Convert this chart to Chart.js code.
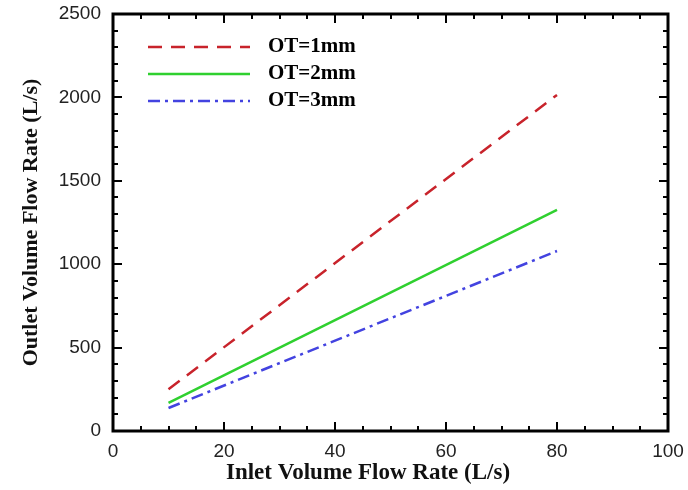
<!DOCTYPE html>
<html>
<head>
<meta charset="UTF-8">
<script src="https://cdn.jsdelivr.net/npm/chart.js"></script>
<style>
  html, body { margin: 0; padding: 0; background: #fff; }
  #wrap { width: 688px; height: 490px; }
</style>
</head>
<body>
<div id="wrap"><canvas id="grafik"></canvas></div>
<script>
// data
const inletRates = [10, 80];
const ot1mm = [250, 2015];
const ot2mm = [168, 1325];
const ot3mm = [138, 1079];
const seriesNames = ['OT=1mm', 'OT=2mm', 'OT=3mm'];
const xTitle = 'Inlet Volume Flow Rate (L/s)';
const yTitle = 'Outlet Volume Flow Rate (L/s)';

function toPoints(ys) {
  return inletRates.map((x, i) => ({ x: x, y: ys[i] }));
}

// inward ticks on all four sides + thick frame + legend + x title
const frameTicks = {
  id: 'frameTicks',
  afterDraw(chart) {
    const ctx = chart.ctx;
    const a = chart.chartArea;
    const xs = chart.scales.x, ys = chart.scales.y;
    ctx.save();
    ctx.strokeStyle = '#000';
    ctx.lineWidth = 2;
    for (let v = 0; v <= 100; v += 5) {
      const px = Math.round(xs.getPixelForValue(v));
      const len = v % 20 === 0 ? 9 : 5;
      ctx.beginPath();
      ctx.moveTo(px, a.bottom); ctx.lineTo(px, a.bottom - len);
      ctx.moveTo(px, a.top); ctx.lineTo(px, a.top + len);
      ctx.stroke();
    }
    for (let v = 0; v <= 2500; v += 100) {
      const py = Math.round(ys.getPixelForValue(v));
      const len = v % 500 === 0 ? 9 : 5;
      ctx.beginPath();
      ctx.moveTo(a.left, py); ctx.lineTo(a.left + len, py);
      ctx.moveTo(a.right, py); ctx.lineTo(a.right - len, py);
      ctx.stroke();
    }
    ctx.lineWidth = 3;
    ctx.strokeRect(a.left, a.top, a.right - a.left, a.bottom - a.top);

    // legend inside plot
    ctx.font = 'bold 21px "Liberation Serif"';
    ctx.textBaseline = 'middle';
    chart.data.datasets.forEach((ds, i) => {
      const y = 47 + i * 27;
      ctx.strokeStyle = ds.borderColor;
      ctx.lineWidth = 2.5;
      ctx.setLineDash(ds.borderDash || []);
      ctx.beginPath();
      ctx.moveTo(148, y); ctx.lineTo(250, y);
      ctx.stroke();
      ctx.setLineDash([]);
      ctx.fillStyle = '#000';
      ctx.fillText(ds.label, 268, y);
    });

    // x axis title (sits a bit left of the plot centre in the original)
    ctx.font = 'bold 23px "Liberation Serif"';
    ctx.textAlign = 'center';
    ctx.fillStyle = '#111';
    ctx.fillText(xTitle, 368, 473);
    ctx.restore();
  }
};

new Chart(document.getElementById('grafik'), {
  type: 'line',
  data: {
    datasets: [
      { label: seriesNames[0], data: toPoints(ot1mm), borderColor: '#c8232b', borderWidth: 2.5, borderDash: [14, 9] },
      { label: seriesNames[1], data: toPoints(ot2mm), borderColor: '#2fd02f', borderWidth: 2.5 },
      { label: seriesNames[2], data: toPoints(ot3mm), borderColor: '#4343e0', borderWidth: 2.5, borderDash: [12, 5, 3, 5] }
    ]
  },
  options: {
    responsive: true,
    maintainAspectRatio: false,
    animation: false,
    layout: { padding: { top: 14, right: 20, left: 0, bottom: 0 } },
    elements: { point: { radius: 0 } },
    plugins: { legend: { display: false }, tooltip: { enabled: false } },
    scales: {
      x: {
        type: 'linear', min: 0, max: 100,
        afterFit(s) { s.height = 59; s.paddingLeft = 0; s.paddingRight = 0; },
        grid: { display: false, drawTicks: false },
        border: { display: false },
        ticks: { stepSize: 20, color: '#222', padding: 9, font: { family: 'Liberation Sans', size: 19 },
                 callback: v => String(v) },
        title: { display: false }
      },
      y: {
        type: 'linear', min: 0, max: 2500,
        afterFit(s) { s.width = 113; s.paddingTop = 0; s.paddingBottom = 0; },
        grid: { display: false, drawTicks: false },
        border: { display: false },
        ticks: { stepSize: 500, color: '#222', padding: 12, font: { family: 'Liberation Sans', size: 19 },
                 callback: v => String(v) },
        title: { display: true, text: yTitle, color: '#111', padding: { top: 18, bottom: 0 },
                 font: { family: 'Liberation Serif', weight: 'bold', size: 22 } }
      }
    }
  },
  plugins: [frameTicks]
});
</script>
</body>
</html>
